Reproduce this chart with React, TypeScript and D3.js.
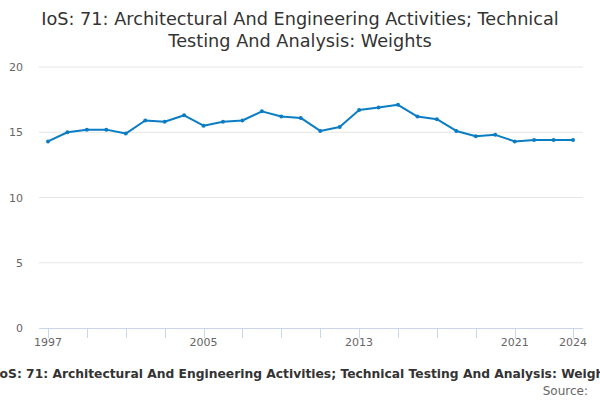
import {useEffect, useRef} from 'react';
import * as d3 from 'd3';

// data
const years = [
  1997, 1998, 1999, 2000, 2001, 2002, 2003, 2004, 2005, 2006, 2007, 2008, 2009, 2010,
  2011, 2012, 2013, 2014, 2015, 2016, 2017, 2018, 2019, 2020, 2021, 2022, 2023, 2024,
];
const weights = [
  14.3, 15.0, 15.2, 15.2, 14.9, 15.9, 15.8, 16.3, 15.5, 15.8, 15.9, 16.6, 16.2, 16.1,
  15.1, 15.4, 16.7, 16.9, 17.1, 16.2, 16.0, 15.1, 14.7, 14.8, 14.3, 14.4, 14.4, 14.4,
];
const yTicks = [0, 5, 10, 15, 20];
const xTickYears = [1997, 1999, 2001, 2003, 2005, 2007, 2009, 2011, 2013, 2015, 2017, 2019, 2021, 2024];
const xLabelYears = [1997, 2005, 2013, 2021, 2024];

const titleLines = [
  'IoS: 71: Architectural And Engineering Activities; Technical',
  'Testing And Analysis: Weights',
];
const subtitle = 'IoS: 71: Architectural And Engineering Activities; Technical Testing And Analysis: Weights';
const sourceText = 'Source:';

// layout
const width = 600;
const height = 400;
const plotLeft = 39;
const plotRight = 583;
const plotTop = 67;
const plotBottom = 328;
const font = '"DejaVu Sans", sans-serif';
const lineColor = '#0b7dc4';

export default function App() {
  const ref = useRef<SVGSVGElement>(null);
  useEffect(() => {
    if (!ref.current) return;
    const svg = d3.select(ref.current);
    svg.selectAll('*').remove();

    const x = d3.scaleLinear().domain([1997, 2024]).range([plotLeft + 9, plotRight - 10]);
    const y = d3.scaleLinear().domain([0, 20]).range([plotBottom, plotTop]);

    // title
    svg.append('g')
      .selectAll('text')
      .data(titleLines)
      .enter()
      .append('text')
      .attr('x', width / 2)
      .attr('y', (d, i) => 25 + i * 22)
      .attr('text-anchor', 'middle')
      .style('font-family', font)
      .style('font-size', '17.7px')
      .style('fill', '#333')
      .text(d => d);

    // grid + y labels
    const grid = svg.append('g');
    grid.selectAll('line')
      .data(yTicks.filter(t => t > 0))
      .enter()
      .append('line')
      .attr('x1', plotLeft)
      .attr('x2', plotRight)
      .attr('y1', d => y(d))
      .attr('y2', d => y(d))
      .attr('stroke', '#e6e6e6')
      .attr('stroke-width', 1);
    grid.selectAll('text')
      .data(yTicks)
      .enter()
      .append('text')
      .attr('x', 23)
      .attr('y', d => y(d) + 4)
      .attr('text-anchor', 'end')
      .style('font-family', font)
      .style('font-size', '11px')
      .style('fill', '#666')
      .text(d => d);

    // x axis
    const axis = svg.append('g');
    axis.append('line')
      .attr('x1', plotLeft)
      .attr('x2', plotRight)
      .attr('y1', plotBottom + 0.5)
      .attr('y2', plotBottom + 0.5)
      .attr('stroke', '#ccd6eb');
    axis.selectAll('line.tick')
      .data(xTickYears)
      .enter()
      .append('line')
      .classed('tick', true)
      .attr('x1', d => Math.round(x(d)) + 0.5)
      .attr('x2', d => Math.round(x(d)) + 0.5)
      .attr('y1', plotBottom)
      .attr('y2', plotBottom + 10)
      .attr('stroke', '#ccd6eb');
    axis.selectAll('text')
      .data(xLabelYears)
      .enter()
      .append('text')
      .attr('x', d => x(d))
      .attr('y', plotBottom + 18)
      .attr('text-anchor', 'middle')
      .style('font-family', font)
      .style('font-size', '11px')
      .style('fill', '#666')
      .text(d => d);

    // series
    const points = years.map((yr, i) => [x(yr), y(weights[i])] as [number, number]);
    svg.append('path')
      .attr('d', d3.line()(points))
      .attr('fill', 'none')
      .attr('stroke', lineColor)
      .attr('stroke-width', 2)
      .attr('stroke-linejoin', 'round');
    svg.append('g')
      .selectAll('circle')
      .data(points)
      .enter()
      .append('circle')
      .attr('cx', d => d[0])
      .attr('cy', d => d[1])
      .attr('r', 2)
      .attr('fill', lineColor);

    // footer (overflows the chart width, as in the original)
    svg.append('text')
      .attr('x', -5)
      .attr('y', 378)
      .attr('text-anchor', 'start')
      .style('font-family', font)
      .style('font-size', '12.3px')
      .style('font-weight', 'bold')
      .style('fill', '#333')
      .text(subtitle);
    svg.append('text')
      .attr('x', 588)
      .attr('y', 395)
      .attr('text-anchor', 'end')
      .style('font-family', font)
      .style('font-size', '12px')
      .style('fill', '#666')
      .text(sourceText);
  }, []);
  return <svg
    ref={ref}
    width={width}
    height={height}
    style={{position: 'absolute', left: 0, top: 0, background: 'white'}}
  />;
}
